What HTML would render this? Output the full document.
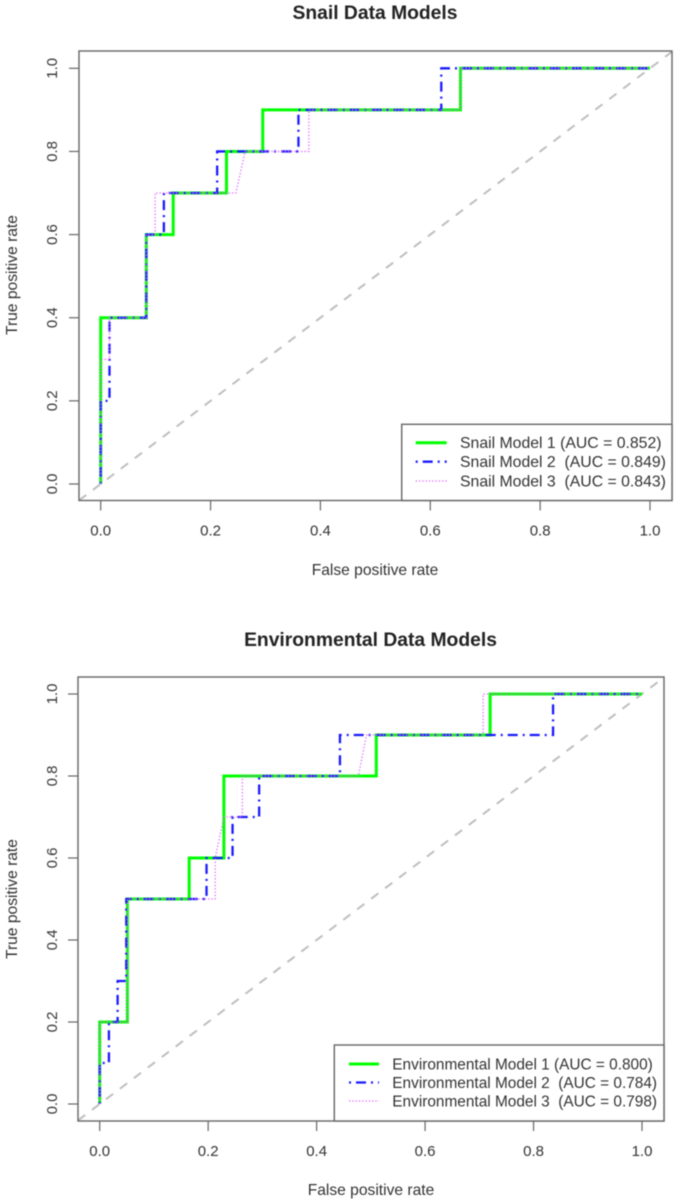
<!DOCTYPE html>
<html>
<head>
<meta charset="utf-8">
<title>ROC curves</title>
<style>
html,body{margin:0;padding:0;background:#fff;width:683px;height:1199px;overflow:hidden}
svg{display:block;filter:blur(0.5px)}
text{font-family:"Liberation Sans",Arial,sans-serif;fill:#333;white-space:pre}
</style>
</head>
<body>
<svg id="chart" xmlns="http://www.w3.org/2000/svg" width="683" height="1199" viewBox="0 0 683 1199"></svg>
<script>
const tickLabels = ['0.0', '0.2', '0.4', '0.6', '0.8', '1.0'];
const tickValues = [0, 0.2, 0.4, 0.6, 0.8, 1];

const snailTitle = 'Snail Data Models';
const snailModel1Fpr = [0, 0, 0.083, 0.083, 0.132, 0.132, 0.229, 0.229, 0.295, 0.295, 0.655, 0.655, 1];
const snailModel1Tpr = [0, 0.4, 0.4, 0.6, 0.6, 0.7, 0.7, 0.8, 0.8, 0.9, 0.9, 1, 1];
const snailModel2Fpr = [0, 0, 0.016, 0.016, 0.083, 0.083, 0.115, 0.115, 0.212, 0.212, 0.36, 0.36, 0.62, 0.62, 1];
const snailModel2Tpr = [0, 0.2, 0.2, 0.4, 0.4, 0.6, 0.6, 0.7, 0.7, 0.8, 0.8, 0.9, 0.9, 1, 1];
const snailModel3Fpr = [0, 0, 0.016, 0.016, 0.083, 0.083, 0.099, 0.099, 0.246, 0.263, 0.379, 0.379, 0.655, 0.655, 1];
const snailModel3Tpr = [0, 0.3, 0.3, 0.4, 0.4, 0.6, 0.6, 0.7, 0.7, 0.8, 0.8, 0.9, 0.9, 1, 1];
const snailLegend = ['Snail Model 1 (AUC = 0.852)', 'Snail Model 2  (AUC = 0.849)', 'Snail Model 3  (AUC = 0.843)'];

const envTitle = 'Environmental Data Models';
const envModel1Fpr = [0, 0, 0.051, 0.051, 0.165, 0.165, 0.229, 0.229, 0.51, 0.51, 0.72, 0.72, 1];
const envModel1Tpr = [0, 0.2, 0.2, 0.5, 0.5, 0.6, 0.6, 0.8, 0.8, 0.9, 0.9, 1, 1];
const envModel2Fpr = [0, 0, 0.017, 0.017, 0.033, 0.033, 0.049, 0.049, 0.197, 0.197, 0.245, 0.245, 0.294, 0.294, 0.443, 0.443, 0.836, 0.836, 1];
const envModel2Tpr = [0, 0.1, 0.1, 0.2, 0.2, 0.3, 0.3, 0.5, 0.5, 0.6, 0.6, 0.7, 0.7, 0.8, 0.8, 0.9, 0.9, 1, 1];
const envModel3Fpr = [0, 0, 0.051, 0.051, 0.213, 0.213, 0.229, 0.263, 0.263, 0.477, 0.492, 0.707, 0.707, 1];
const envModel3Tpr = [0, 0.2, 0.2, 0.5, 0.5, 0.6, 0.7, 0.7, 0.8, 0.8, 0.9, 0.9, 1, 1];
const envLegend = ['Environmental Model 1 (AUC = 0.800)', 'Environmental Model 2  (AUC = 0.784)', 'Environmental Model 3  (AUC = 0.798)'];

const SVGNS = 'http://www.w3.org/2000/svg';
const root = document.getElementById('chart');

function make(parent, tag, attrs, content) {
  const el = document.createElementNS(SVGNS, tag);
  for (const k in attrs) el.setAttribute(k, attrs[k]);
  if (content !== undefined) el.textContent = content;
  parent.appendChild(el);
  return el;
}

const seriesStyles = [
  { stroke: '#00ff00', width: 3, dash: '' },
  { stroke: '#1a1aff', width: 2.3, dash: '2 5 10 5' },
  { stroke: '#e066ff', width: 1.3, dash: '1.3 2' }
];

function drawPlot(cfg) {
  const g = make(root, 'g', {});
  
  

  const xAxis = v => cfg.x0 + v * (cfg.x1 - cfg.x0);
  const yAxis = v => cfg.y0 + v * (cfg.y1 - cfg.y0);
  const axisColor = '#666';

  const title = make(g, 'text', { x: cfg.titleX, y: cfg.titleY, 'text-anchor': 'middle', 'font-size': 19.3, 'font-weight': 'bold', style: 'fill:#222' }, cfg.title);
  
  

  const ext0 = (cfg.boxL - cfg.x0) / (cfg.x1 - cfg.x0);
  const ext1 = (cfg.boxR - cfg.x0) / (cfg.x1 - cfg.x0);
  const diagonal = make(g, 'line', { x1: cfg.boxL, y1: yAxis(ext0), x2: cfg.boxR, y2: yAxis(ext1), stroke: '#bebebe', 'stroke-width': 2, 'stroke-dasharray': '9 8.5' });
  
  

  cfg.series.forEach((s, i) => {
    const st = seriesStyles[i];
    const pts = s.fpr.map((f, j) => xAxis(f).toFixed(2) + ',' + yAxis(s.tpr[j]).toFixed(2)).join(' ');
    const line = make(g, 'polyline', { points: pts, fill: 'none', stroke: st.stroke, 'stroke-width': st.width, 'stroke-dasharray': st.dash, 'stroke-linejoin': 'miter' });
    
    
  });

  const box = make(g, 'rect', { x: cfg.boxL, y: cfg.boxT, width: cfg.boxR - cfg.boxL, height: cfg.boxB - cfg.boxT, fill: 'none', stroke: axisColor, 'stroke-width': 1.4 });
  
  

  tickValues.forEach((v, i) => {
    const xt = make(g, 'line', { x1: xAxis(v), x2: xAxis(v), y1: cfg.boxB, y2: cfg.boxB + 10, stroke: axisColor, 'stroke-width': 1.2 });
    
    
    const xl = make(g, 'text', { x: xAxis(v), y: cfg.boxB + 35, 'text-anchor': 'middle', 'font-size': 15 }, tickLabels[i]);
    
    
    const yt = make(g, 'line', { x1: cfg.boxL - 10, x2: cfg.boxL, y1: yAxis(v), y2: yAxis(v), stroke: axisColor, 'stroke-width': 1.2 });
    
    
    const yl = make(g, 'text', { transform: 'translate(' + cfg.yLabelX + ' ' + yAxis(v) + ') rotate(-90)', 'text-anchor': 'middle', 'font-size': 15 }, tickLabels[i]);
    
    
  });

  const xTitle = make(g, 'text', { x: cfg.xTitleX, y: cfg.xTitleY, 'text-anchor': 'middle', 'font-size': 15.6 }, 'False positive rate');
  
  
  const yTitle = make(g, 'text', { transform: 'translate(17 ' + cfg.yTitleY + ') rotate(-90)', 'text-anchor': 'middle', 'font-size': 15.6 }, 'True positive rate');
  
  

  const leg = make(g, 'g', {});
  
  
  const legBox = make(leg, 'rect', { x: cfg.legL, y: cfg.legT, width: cfg.boxR - cfg.legL, height: cfg.boxB - cfg.legT, fill: '#fff', stroke: axisColor, 'stroke-width': 1.4 });
  
  
  cfg.legend.forEach((label, i) => {
    const st = seriesStyles[i];
    const ly = cfg.legY[i];
    const swatch = make(leg, 'line', { x1: cfg.swatchL, x2: cfg.swatchR, y1: ly, y2: ly, stroke: st.stroke, 'stroke-width': st.width, 'stroke-dasharray': st.dash });
    
    
    const tx = make(leg, 'text', { x: cfg.legTextX, y: ly + 5.5, 'font-size': cfg.legFont }, label);
    
    
  });
}

drawPlot({
  prefix: 'snail', title: snailTitle, titleX: 375, titleY: 19,
  x0: 100.7, x1: 650, y0: 484, y1: 68.3,
  boxL: 79, boxR: 672, boxT: 51, boxB: 500.5,
  yLabelX: 57, xTitleX: 375, xTitleY: 575, yTitleY: 275,
  legL: 401.7, legT: 424.3, legY: [442.7, 461.7, 481], swatchL: 415.7, swatchR: 446.7, legTextX: 460, legFont: 15.8,
  legend: snailLegend,
  series: [
    { fpr: snailModel1Fpr, tpr: snailModel1Tpr },
    { fpr: snailModel2Fpr, tpr: snailModel2Tpr },
    { fpr: snailModel3Fpr, tpr: snailModel3Tpr }
  ]
});

drawPlot({
  prefix: 'environmental', title: envTitle, titleX: 370.5, titleY: 646,
  x0: 99.7, x1: 642, y0: 1104, y1: 694,
  boxL: 78, boxR: 664, boxT: 677, boxB: 1121,
  yLabelX: 57, xTitleX: 371, xTitleY: 1195, yTitleY: 899,
  legL: 334.3, legT: 1045, legY: [1064, 1082.5, 1101], swatchL: 349, swatchR: 379, legTextX: 392.3, legFont: 15.4,
  legend: envLegend,
  series: [
    { fpr: envModel1Fpr, tpr: envModel1Tpr },
    { fpr: envModel2Fpr, tpr: envModel2Tpr },
    { fpr: envModel3Fpr, tpr: envModel3Tpr }
  ]
});
</script>
</body>
</html>
